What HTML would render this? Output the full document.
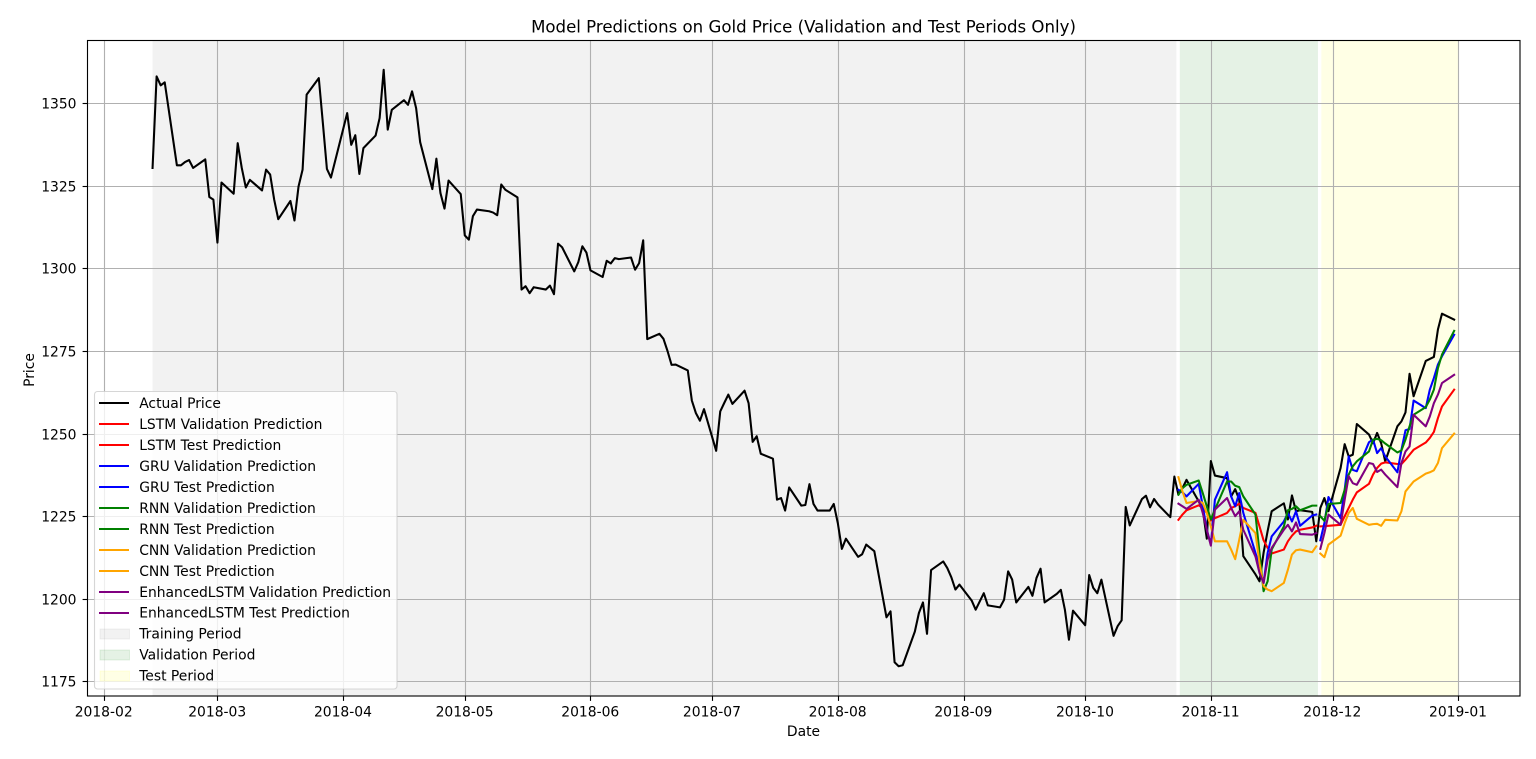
<!DOCTYPE html>
<html lang="en">
<head>
<meta charset="utf-8">
<title>Model Predictions on Gold Price</title>
<style>
html,body{margin:0;padding:0;background:#fff;}
svg{display:block;}
text{font-family:"DejaVu Sans","Liberation Sans",sans-serif;fill:#000;}
</style>
</head>
<body>
<svg id="chart" width="1536" height="759" viewBox="0 0 1536 759" xmlns="http://www.w3.org/2000/svg">
  <rect x="0" y="0" width="1536" height="759" fill="#fff"/>
  <g id="spans"></g>
  <g id="grid"></g>
  <g id="series"></g>
  <g id="ticks"></g>
  <rect x="87.5" y="40.5" width="1432.5" height="655.5" fill="none" stroke="#000" stroke-width="1.11"/>
  <text x="803.5" y="32.5" text-anchor="middle" font-size="16.6">Model Predictions on Gold Price (Validation and Test Periods Only)</text>
  <text x="803.5" y="736" text-anchor="middle" font-size="13.89">Date</text>
  <text transform="translate(34.2,370) rotate(-90)" text-anchor="middle" font-size="13.89">Price</text>

  <g>
    <rect x="94.5" y="391.5" width="302.5" height="297.5" rx="3" ry="3" fill="#fff" fill-opacity="0.8" stroke="#ccc" stroke-opacity="0.8" stroke-width="1.11"/>
    <g><line x1="99" x2="129" y1="403" y2="403" stroke="#000" stroke-width="2.08"/><text x="139.2" y="408" font-size="13.89">Actual Price</text></g>
    <g><line x1="99" x2="129" y1="424" y2="424" stroke="#f00" stroke-width="2.08"/><text x="139.2" y="429" font-size="13.89">LSTM Validation Prediction</text></g>
    <g><line x1="99" x2="129" y1="445" y2="445" stroke="#f00" stroke-width="2.08"/><text x="139.2" y="450" font-size="13.89">LSTM Test Prediction</text></g>
    <g><line x1="99" x2="129" y1="466" y2="466" stroke="#00f" stroke-width="2.08"/><text x="139.2" y="471" font-size="13.89">GRU Validation Prediction</text></g>
    <g><line x1="99" x2="129" y1="487" y2="487" stroke="#00f" stroke-width="2.08"/><text x="139.2" y="492" font-size="13.89">GRU Test Prediction</text></g>
    <g><line x1="99" x2="129" y1="508" y2="508" stroke="#008000" stroke-width="2.08"/><text x="139.2" y="513" font-size="13.89">RNN Validation Prediction</text></g>
    <g><line x1="99" x2="129" y1="529" y2="529" stroke="#008000" stroke-width="2.08"/><text x="139.2" y="534" font-size="13.89">RNN Test Prediction</text></g>
    <g><line x1="99" x2="129" y1="550" y2="550" stroke="#ffa500" stroke-width="2.08"/><text x="139.2" y="555" font-size="13.89">CNN Validation Prediction</text></g>
    <g><line x1="99" x2="129" y1="571" y2="571" stroke="#ffa500" stroke-width="2.08"/><text x="139.2" y="576" font-size="13.89">CNN Test Prediction</text></g>
    <g><line x1="99" x2="129" y1="592" y2="592" stroke="#800080" stroke-width="2.08"/><text x="139.2" y="597" font-size="13.89">EnhancedLSTM Validation Prediction</text></g>
    <g><line x1="99" x2="129" y1="613" y2="613" stroke="#800080" stroke-width="2.08"/><text x="139.2" y="617.5" font-size="13.89">EnhancedLSTM Test Prediction</text></g>
    <g><rect x="100" y="629" width="29.5" height="10" fill="#808080" fill-opacity="0.1" stroke="#808080" stroke-opacity="0.1"/><text x="139.2" y="638.5" font-size="13.89">Training Period</text></g>
    <g><rect x="100" y="650" width="29.5" height="10" fill="#008000" fill-opacity="0.1" stroke="#008000" stroke-opacity="0.1"/><text x="139.2" y="659.5" font-size="13.89">Validation Period</text></g>
    <g><rect x="100" y="671" width="29.5" height="10" fill="#ffff00" fill-opacity="0.1" stroke="#ffff00" stroke-opacity="0.1"/><text x="139.2" y="680.5" font-size="13.89">Test Period</text></g>
  </g>
</svg>
<script>
const dates = [
"2018-02-13","2018-02-14","2018-02-15","2018-02-16","2018-02-19","2018-02-20","2018-02-21","2018-02-22","2018-02-23","2018-02-26","2018-02-27","2018-02-28",
"2018-03-01","2018-03-02","2018-03-05","2018-03-06","2018-03-07","2018-03-08","2018-03-09","2018-03-12","2018-03-13","2018-03-14","2018-03-15","2018-03-16","2018-03-19","2018-03-20","2018-03-21","2018-03-22","2018-03-23","2018-03-26","2018-03-27","2018-03-28","2018-03-29",
"2018-04-02","2018-04-03","2018-04-04","2018-04-05","2018-04-06","2018-04-09","2018-04-10","2018-04-11","2018-04-12","2018-04-13","2018-04-16","2018-04-17","2018-04-18","2018-04-19","2018-04-20","2018-04-23","2018-04-24","2018-04-25","2018-04-26","2018-04-27","2018-04-30",
"2018-05-01","2018-05-02","2018-05-03","2018-05-04","2018-05-07","2018-05-08","2018-05-09","2018-05-10","2018-05-11","2018-05-14","2018-05-15","2018-05-16","2018-05-17","2018-05-18","2018-05-21","2018-05-22","2018-05-23","2018-05-24","2018-05-25","2018-05-28","2018-05-29","2018-05-30","2018-05-31",
"2018-06-01","2018-06-04","2018-06-05","2018-06-06","2018-06-07","2018-06-08","2018-06-11","2018-06-12","2018-06-13","2018-06-14","2018-06-15","2018-06-18","2018-06-19","2018-06-20","2018-06-21","2018-06-22","2018-06-25","2018-06-26","2018-06-27","2018-06-28","2018-06-29",
"2018-07-02","2018-07-03","2018-07-04","2018-07-05","2018-07-06","2018-07-09","2018-07-10","2018-07-11","2018-07-12","2018-07-13","2018-07-16","2018-07-17","2018-07-18","2018-07-19","2018-07-20","2018-07-23","2018-07-24","2018-07-25","2018-07-26","2018-07-27","2018-07-30","2018-07-31",
"2018-08-01","2018-08-02","2018-08-03","2018-08-06","2018-08-07","2018-08-08","2018-08-09","2018-08-10","2018-08-13","2018-08-14","2018-08-15","2018-08-16","2018-08-17","2018-08-20","2018-08-21","2018-08-22","2018-08-23","2018-08-24","2018-08-27","2018-08-28","2018-08-29","2018-08-30","2018-08-31",
"2018-09-03","2018-09-04","2018-09-05","2018-09-06","2018-09-07","2018-09-10","2018-09-11","2018-09-12","2018-09-13","2018-09-14","2018-09-17","2018-09-18","2018-09-19","2018-09-20","2018-09-21","2018-09-24","2018-09-25","2018-09-26","2018-09-27","2018-09-28",
"2018-10-01","2018-10-02","2018-10-03","2018-10-04","2018-10-05","2018-10-08","2018-10-09","2018-10-10","2018-10-11","2018-10-12","2018-10-15","2018-10-16","2018-10-17","2018-10-18","2018-10-19","2018-10-22","2018-10-23","2018-10-24","2018-10-25","2018-10-26","2018-10-29","2018-10-30","2018-10-31",
"2018-11-01","2018-11-02","2018-11-05","2018-11-06","2018-11-07","2018-11-08","2018-11-09","2018-11-12","2018-11-13","2018-11-14","2018-11-15","2018-11-16","2018-11-19","2018-11-20","2018-11-21","2018-11-22","2018-11-23","2018-11-26","2018-11-27","2018-11-28","2018-11-29","2018-11-30",
"2018-12-03","2018-12-04","2018-12-05","2018-12-06","2018-12-07","2018-12-10","2018-12-11","2018-12-12","2018-12-13","2018-12-14","2018-12-17","2018-12-18","2018-12-19","2018-12-20","2018-12-21","2018-12-24","2018-12-25","2018-12-26","2018-12-27","2018-12-28","2018-12-31"];
const actualPrice = [
1330.4,1358.1,1355.4,1356.3,1331.2,1331.2,1332.2,1332.8,1330.4,1333.0,1321.6,1320.8,
1307.8,1326.0,1322.6,1337.9,1330.4,1324.5,1326.8,1323.6,1329.9,1328.4,1320.8,1314.9,1320.4,1314.5,1324.8,1329.9,1352.6,1357.6,1344.0,1330.1,1327.5,
1347.0,1337.4,1340.3,1328.6,1336.4,1340.2,1345.5,1360.1,1342.0,1348.0,1350.9,1349.5,1353.6,1348.5,1338.2,1324.0,1333.2,1322.8,1318.1,1326.6,1322.5,
1310.0,1308.7,1315.8,1317.8,1317.3,1316.9,1316.1,1325.4,1323.8,1321.5,1293.6,1294.6,1292.5,1294.3,1293.6,1294.8,1292.2,1307.5,1306.4,1299.1,1301.9,1306.7,1304.8,
1299.4,1297.4,1302.3,1301.5,1303.1,1302.8,1303.3,1299.6,1301.6,1308.5,1278.6,1280.2,1278.7,1275.0,1270.8,1270.9,1269.1,1260.0,1256.2,1253.9,1257.4,
1244.8,1256.7,1259.3,1261.8,1259.0,1263.0,1259.2,1247.5,1249.2,1243.9,1242.4,1230.0,1230.5,1226.7,1233.7,1228.2,1228.4,1234.7,1228.7,1226.7,1226.7,1228.7,
1222.9,1215.1,1218.2,1212.7,1213.5,1216.4,1215.4,1214.4,1194.4,1196.2,1180.8,1179.6,1179.9,1190.1,1195.7,1198.9,1189.4,1208.7,1211.3,1209.3,1206.5,1202.8,1204.3,
1199.5,1196.7,1199.2,1201.7,1198.0,1197.4,1199.7,1208.3,1205.8,1198.9,1203.6,1200.9,1206.3,1209.1,1198.9,1201.5,1202.7,1196.7,1187.6,1196.4,
1192.0,1207.2,1203.3,1201.7,1205.8,1188.8,1191.7,1193.5,1227.8,1222.2,1230.2,1231.2,1227.7,1230.2,1228.5,1224.7,1237.0,1231.5,1233.5,1236.0,1229.5,1227.0,1218.2,
1241.7,1237.3,1236.5,1231.0,1233.2,1230.0,1212.9,1207.4,1205.3,1213.9,1220.5,1226.5,1228.9,1224.0,1231.3,1226.5,1226.8,1226.3,1217.4,1227.5,1230.5,1226.5,
1239.6,1246.8,1243.1,1243.6,1252.9,1249.7,1247.1,1250.2,1247.1,1241.6,1252.2,1253.7,1256.4,1268.1,1261.3,1272.0,1272.6,1273.2,1281.5,1286.3,1284.5];

const validationDates = ["2018-10-24","2018-10-25","2018-10-26","2018-10-29","2018-10-30","2018-10-31","2018-11-01","2018-11-02","2018-11-05","2018-11-06","2018-11-07","2018-11-08","2018-11-09","2018-11-12","2018-11-13","2018-11-14","2018-11-15","2018-11-16","2018-11-19","2018-11-20","2018-11-21","2018-11-22","2018-11-23","2018-11-26","2018-11-27"];
const testDates = ["2018-11-28","2018-11-29","2018-11-30","2018-12-03","2018-12-04","2018-12-05","2018-12-06","2018-12-07","2018-12-10","2018-12-11","2018-12-12","2018-12-13","2018-12-14","2018-12-17","2018-12-18","2018-12-19","2018-12-20","2018-12-21","2018-12-24","2018-12-25","2018-12-26","2018-12-27","2018-12-28","2018-12-31"];

const lstmValidation = [1223.9,1225.5,1226.8,1228.3,1227.5,1226.0,1223.7,1224.4,1226.0,1227.5,1228.0,1228.8,1227.5,1226.0,1221.9,1217.7,1215.4,1213.7,1214.9,1217.4,1219.1,1220.4,1220.9,1221.6,1222.1];
const lstmTest = [1221.9,1222.0,1222.1,1222.4,1225.0,1227.5,1230.0,1232.2,1234.8,1237.6,1239.6,1240.9,1241.3,1240.8,1240.8,1242.1,1243.6,1245.1,1247.3,1248.7,1250.5,1254.7,1258.2,1263.3];
const gruValidation = [1233.0,1232.2,1231.0,1234.8,1228.0,1220.9,1216.4,1230.0,1238.3,1231.0,1228.0,1232.0,1226.0,1213.9,1209.8,1204.8,1213.9,1218.9,1223.4,1226.0,1223.4,1226.5,1222.1,1225.2,1225.5];
const gruTest = [1217.7,1222.9,1230.8,1224.4,1233.0,1243.1,1239.0,1238.6,1247.4,1248.2,1244.1,1245.6,1243.1,1238.3,1245.1,1251.0,1251.4,1260.0,1257.7,1263.3,1266.8,1270.9,1273.4,1279.9];
const rnnValidation = [1231.5,1233.5,1234.5,1235.8,1232.0,1228.0,1224.0,1227.0,1235.5,1235.5,1234.2,1233.8,1231.0,1225.5,1213.9,1202.3,1205.3,1214.9,1221.9,1226.8,1227.2,1228.0,1226.8,1228.2,1228.2];
const rnnTest = [1225.0,1223.6,1228.7,1229.0,1233.0,1237.6,1240.1,1241.6,1244.6,1248.2,1248.4,1248.0,1247.0,1244.3,1244.9,1248.2,1252.2,1255.7,1258.0,1260.3,1263.3,1269.8,1273.9,1281.1];
const cnnValidation = [1236.8,1232.5,1229.0,1229.6,1229.0,1226.0,1221.9,1217.4,1217.4,1214.9,1212.0,1217.9,1223.9,1219.9,1210.8,1203.8,1202.8,1202.3,1204.8,1208.8,1213.4,1214.7,1214.9,1214.1,1215.9];
const cnnTest = [1213.7,1212.6,1216.4,1219.1,1222.9,1226.0,1227.5,1224.2,1222.4,1222.6,1222.7,1222.1,1223.9,1223.7,1226.5,1232.5,1234.0,1235.5,1237.9,1238.3,1238.9,1241.1,1245.6,1250.0];
const enhancedValidation = [1228.8,1228.0,1227.2,1230.0,1226.0,1220.9,1216.1,1227.0,1230.5,1227.5,1225.0,1226.5,1220.9,1212.8,1207.8,1204.8,1211.8,1215.4,1220.9,1222.4,1220.4,1223.1,1219.6,1219.4,1219.9];
const enhancedTest = [1215.1,1219.9,1225.5,1222.4,1230.0,1237.1,1235.0,1234.5,1241.1,1240.8,1238.4,1239.1,1237.6,1233.8,1241.1,1244.6,1246.1,1255.7,1252.2,1255.2,1259.2,1261.8,1265.3,1267.8];

const xTickLabels = ["2018-02","2018-03","2018-04","2018-05","2018-06","2018-07","2018-08","2018-09","2018-10","2018-11","2018-12","2019-01"];
const yTickLabels = [1175,1200,1225,1250,1275,1300,1325,1350];

const trainingPeriod = ["2018-02-13T00:00Z","2018-10-23T12:00Z"];
const validationPeriod = ["2018-10-24T08:00Z","2018-11-27T10:00Z"];
const testPeriod = ["2018-11-28T06:00Z","2019-01-01T00:00Z"];

const NS = "http://www.w3.org/2000/svg";
const AX = {left:87.5, right:1520, top:40.5, bottom:696};
const DAY = 86400000;
const X_ORIGIN = Date.parse("2018-02-01");

function xScale(dateStr) {
  const parts = dateStr.length === 7 ? dateStr + "-01" : dateStr;
  return 103.9 + (Date.parse(parts) - X_ORIGIN) / DAY * 4.0548;
}
function yScale(v) {
  return 681.4 - (v - 1175) * 3.304;
}
function snap(p) {
  return Math.floor(p + 0.5) + 0.5;
}
function make(tag, parentId) {
  const el = document.createElementNS(NS, tag);
  document.getElementById(parentId).appendChild(el);
  return el;
}

function drawSpan(range, color, name) {
  const r = make("rect", "spans");
  
  
  const x0 = xScale(range[0]), x1 = xScale(range[1]);
  r.setAttribute("x", x0);
  r.setAttribute("y", AX.top);
  r.setAttribute("width", x1 - x0);
  r.setAttribute("height", AX.bottom - AX.top);
  r.setAttribute("fill", color);
  r.setAttribute("fill-opacity", "0.1");
}
drawSpan(trainingPeriod, "#808080", "training-period-span");
drawSpan(validationPeriod, "#008000", "validation-period-span");
drawSpan(testPeriod, "#ffff00", "test-period-span");

xTickLabels.forEach(function (label) {
  const raw = xScale(label);
  const px = snap(raw);
  const g = make("line", "grid");
  
  
  g.setAttribute("x1", px); g.setAttribute("x2", px);
  g.setAttribute("y1", AX.top); g.setAttribute("y2", AX.bottom);
  g.setAttribute("stroke", "#b0b0b0"); g.setAttribute("stroke-width", "1.11");
  const t = make("line", "ticks");
  
  
  t.setAttribute("x1", px); t.setAttribute("x2", px);
  t.setAttribute("y1", AX.bottom); t.setAttribute("y2", AX.bottom + 4.9);
  t.setAttribute("stroke", "#000"); t.setAttribute("stroke-width", "1.11");
  const lab = make("text", "ticks");
  
  
  lab.setAttribute("x", raw - 0.2); lab.setAttribute("y", 716.5);
  lab.setAttribute("text-anchor", "middle");
  lab.setAttribute("font-size", "13.89");
  lab.textContent = label;
});

yTickLabels.forEach(function (label) {
  const py = snap(yScale(label));
  const g = make("line", "grid");
  
  
  g.setAttribute("x1", AX.left); g.setAttribute("x2", AX.right);
  g.setAttribute("y1", py); g.setAttribute("y2", py);
  g.setAttribute("stroke", "#b0b0b0"); g.setAttribute("stroke-width", "1.11");
  const t = make("line", "ticks");
  
  
  t.setAttribute("x1", AX.left - 4.9); t.setAttribute("x2", AX.left);
  t.setAttribute("y1", py); t.setAttribute("y2", py);
  t.setAttribute("stroke", "#000"); t.setAttribute("stroke-width", "1.11");
  const lab = make("text", "ticks");
  
  
  lab.setAttribute("x", 76.5); lab.setAttribute("y", py + 5);
  lab.setAttribute("text-anchor", "end");
  lab.setAttribute("font-size", "13.89");
  lab.textContent = label;
});

function drawLine(xs, ys, color, name) {
  const p = make("polyline", "series");
  
  
  p.setAttribute("points", xs.map(function (d, i) {
    return xScale(d).toFixed(2) + "," + yScale(ys[i]).toFixed(2);
  }).join(" "));
  p.setAttribute("fill", "none");
  p.setAttribute("stroke", color);
  p.setAttribute("stroke-width", "2.08");
  p.setAttribute("stroke-linejoin", "round");
  p.setAttribute("stroke-linecap", "square");
}
drawLine(dates, actualPrice, "#000000", "actual-price-line");
drawLine(validationDates, lstmValidation, "#ff0000", "lstm-validation-line");
drawLine(testDates, lstmTest, "#ff0000", "lstm-test-line");
drawLine(validationDates, gruValidation, "#0000ff", "gru-validation-line");
drawLine(testDates, gruTest, "#0000ff", "gru-test-line");
drawLine(validationDates, rnnValidation, "#008000", "rnn-validation-line");
drawLine(testDates, rnnTest, "#008000", "rnn-test-line");
drawLine(validationDates, cnnValidation, "#ffa500", "cnn-validation-line");
drawLine(testDates, cnnTest, "#ffa500", "cnn-test-line");
drawLine(validationDates, enhancedValidation, "#800080", "enhanced-lstm-validation-line");
drawLine(testDates, enhancedTest, "#800080", "enhanced-lstm-test-line");
</script>
</body>
</html>
